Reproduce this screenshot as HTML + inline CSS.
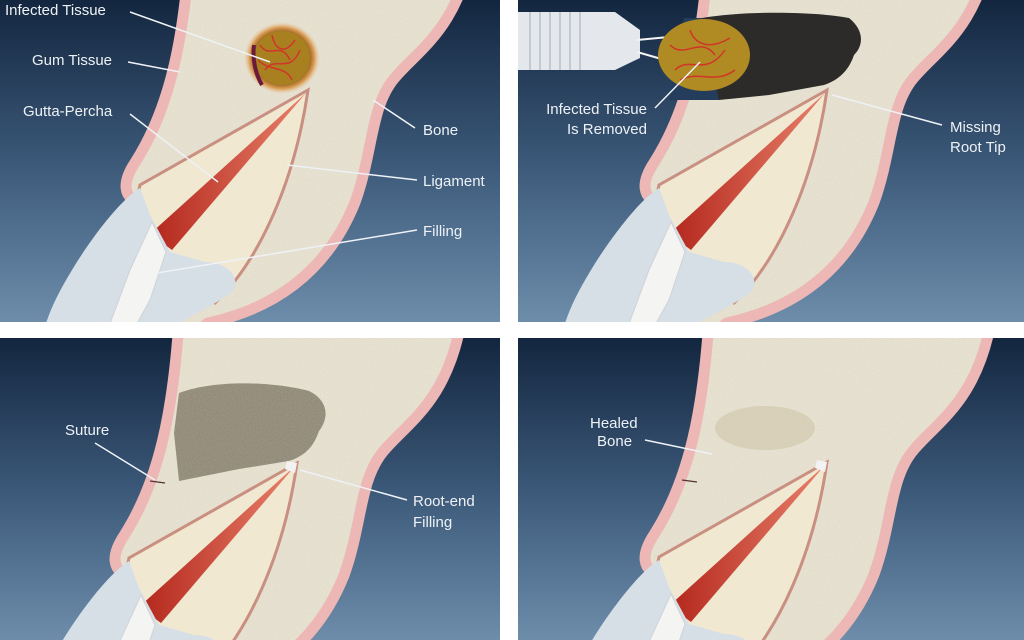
<!DOCTYPE html>
<html><head><meta charset="utf-8"><style>
html,body{margin:0;padding:0;background:#fff;width:1024px;height:640px;overflow:hidden;}
svg{display:block}
text{font-family:"Liberation Sans",sans-serif;font-size:15px;fill:#eef2f6;}
</style></head><body>
<svg width="1024" height="640" viewBox="0 0 1024 640" xmlns="http://www.w3.org/2000/svg">
<defs>
<linearGradient id="bg" x1="0" y1="0" x2="0" y2="1">
<stop offset="0" stop-color="#13263f"/><stop offset="0.5" stop-color="#3b5878"/><stop offset="1" stop-color="#6d8dab"/>
</linearGradient>
<linearGradient id="gp" x1="0" y1="0" x2="1" y2="0">
<stop offset="0" stop-color="#b3261c"/><stop offset="1" stop-color="#e8806a"/>
</linearGradient>
<radialGradient id="inf" cx="0.5" cy="0.5" r="0.5">
<stop offset="0" stop-color="#b58a1f"/><stop offset="0.7" stop-color="#8a5a18"/><stop offset="0.85" stop-color="#d99a50"/><stop offset="1" stop-color="#e8c9a0" stop-opacity="0"/>
</radialGradient>
<filter id="tex"><feTurbulence type="fractalNoise" baseFrequency="0.8" numOctaves="2" result="n"/><feColorMatrix type="matrix" values="0 0 0 0 0.55  0 0 0 0 0.52  0 0 0 0 0.45  0 0 0 0.35 0" in="n" result="c"/><feComposite in="c" in2="SourceGraphic" operator="in" result="m"/><feMerge><feMergeNode in="SourceGraphic"/><feMergeNode in="m"/></feMerge></filter>
<clipPath id="cp1"><rect x="0" y="0" width="500" height="322"/></clipPath>
<clipPath id="cp2"><rect x="518" y="0" width="506" height="322"/></clipPath>
<clipPath id="cp3"><rect x="0" y="338" width="500" height="302"/></clipPath>
<clipPath id="cp4"><rect x="518" y="338" width="506" height="302"/></clipPath>
<g id="scene">
<path d="M196,-60 C190,40 175,110 140,165 C128,183 128,196 145,198 L150,250 L175,345 L205,318 C290,300 330,250 350,200 C368,150 365,105 390,75 C415,45 455,25 468,-60 Z" fill="none" stroke="#ecb7b5" stroke-width="22"/>
<path d="M196,-60 C190,40 175,110 140,165 C128,183 128,196 145,198 L150,250 L175,345 L205,318 C290,300 330,250 350,200 C368,150 365,105 390,75 C415,45 455,25 468,-60 Z" fill="#ece6d6" filter="url(#tex)"/>
<path d="M308,90 L140,185 L130,230 L215,303 C260,260 295,180 308,90 Z" fill="#f1e8d2" stroke="#c98f80" stroke-width="3"/>
<path d="M306,93 L150,234 L172,250 Z" fill="url(#gp)"/>
<path d="M140,188 C120,200 90,240 72,270 C55,298 46,318 40,345 L150,345 C172,322 205,312 232,292 C242,278 228,262 205,262 L170,252 L150,215 Z" fill="#d6dee6"/>
<path d="M152,222 L166,252 L150,300 L125,345 L102,345 L130,270 Z" fill="#f4f4f2" stroke="#cfd3d6" stroke-width="1"/>
</g>
</defs>

<g clip-path="url(#cp1)">
<rect x="0" y="0" width="500" height="322" fill="url(#bg)"/>
<use href="#scene"/>
<ellipse cx="282" cy="58" rx="38" ry="36" fill="url(#inf)"/>
<ellipse cx="282" cy="58" rx="28" ry="27" fill="#a98020"/>
<path d="M260,45 C270,60 280,40 290,60 M265,70 C275,55 290,75 300,50 M272,35 C275,50 285,55 295,40 M258,60 C270,72 285,65 292,80" stroke="#d0342a" stroke-width="1.5" fill="none"/>
<path d="M254,45 C252,60 256,75 262,85" stroke="#6a1a3a" stroke-width="4" fill="none"/>
<g stroke="#eef2f6" stroke-width="1.5">
<line x1="130" y1="12" x2="270" y2="62"/>
<line x1="128" y1="62" x2="180" y2="72"/>
<line x1="130" y1="114" x2="218" y2="182"/>
<line x1="415" y1="128" x2="373" y2="100"/>
<line x1="417" y1="180" x2="287" y2="165"/>
<line x1="417" y1="230" x2="157" y2="273"/>
</g>
<text x="5" y="15">Infected Tissue</text>
<text x="32" y="65">Gum Tissue</text>
<text x="23" y="116">Gutta-Percha</text>
<text x="423" y="135">Bone</text>
<text x="423" y="186">Ligament</text>
<text x="423" y="236">Filling</text>
</g>

<g clip-path="url(#cp2)">
<rect x="518" y="0" width="506" height="322" fill="url(#bg)"/>
<g transform="translate(519,0)">
<use href="#scene"/>
<path d="M165,18 L205,18 L200,100 L150,100 Z" fill="#253d5c"/>
<path d="M183,18 C230,10 300,12 330,18 C345,30 345,45 335,55 C330,70 320,80 305,85 L250,95 L200,100 L190,60 Z" fill="#2c2b29"/>
</g>
<path d="M518,12 L615,12 L640,30 L640,58 L615,70 L518,70 Z" fill="#e4e7ec"/>
<g stroke="#b9bec6" stroke-width="1.5"><line x1="530" y1="12" x2="530" y2="70"/><line x1="540" y1="12" x2="540" y2="70"/><line x1="550" y1="12" x2="550" y2="70"/><line x1="560" y1="12" x2="560" y2="70"/><line x1="570" y1="12" x2="570" y2="70"/><line x1="580" y1="12" x2="580" y2="70"/></g>
<path d="M637,40 L690,35 M637,52 L700,70" stroke="#f4f4f4" stroke-width="2" fill="none"/>
<ellipse cx="704" cy="55" rx="46" ry="36" fill="#b08a22"/>
<path d="M670,45 C685,60 700,35 715,55 M675,70 C690,55 705,78 725,50 M690,30 C695,45 710,50 730,38 M680,80 C700,70 715,85 735,70" stroke="#d0342a" stroke-width="1.5" fill="none"/>
<g stroke="#eef2f6" stroke-width="1.5">
<line x1="655" y1="108" x2="700" y2="62"/>
<line x1="942" y1="125" x2="832" y2="95"/>
</g>
<text x="647" y="114" text-anchor="end">Infected Tissue</text>
<text x="647" y="134" text-anchor="end">Is Removed</text>
<text x="950" y="132">Missing</text>
<text x="950" y="152">Root Tip</text>
</g>

<g clip-path="url(#cp3)">
<rect x="0" y="338" width="500" height="302" fill="url(#bg)"/>
<g transform="translate(-11,373)">
<use href="#scene"/>
<path d="M190,20 C230,5 290,10 320,18 C340,28 340,45 330,58 C325,72 318,82 300,88 L250,96 L190,108 L185,60 Z" fill="#8a8270" filter="url(#tex)"/>
<path d="M298,88 L308,90 L306,100 L296,96 Z" fill="#f2f2f2"/>
</g>
<path d="M150,481 L165,483" stroke="#553333" stroke-width="1.2"/>
<g stroke="#eef2f6" stroke-width="1.5">
<line x1="95" y1="443" x2="155" y2="480"/>
<line x1="407" y1="500" x2="300" y2="470"/>
</g>
<text x="65" y="435">Suture</text>
<text x="413" y="506">Root-end</text>
<text x="413" y="527">Filling</text>
</g>

<g clip-path="url(#cp4)">
<rect x="518" y="338" width="506" height="302" fill="url(#bg)"/>
<g transform="translate(519,372)">
<use href="#scene"/>
<path d="M298,88 L308,90 L306,100 L296,96 Z" fill="#f2f2f2"/>
</g>
<ellipse cx="765" cy="428" rx="50" ry="22" fill="#c9bfa0" opacity="0.5"/>
<path d="M682,480 L697,482" stroke="#553333" stroke-width="1.2"/>
<g stroke="#eef2f6" stroke-width="1.5"><line x1="645" y1="440" x2="712" y2="454"/></g>
<text x="590" y="428">Healed</text>
<text x="597" y="446">Bone</text>
</g>
</svg>
</body></html>
